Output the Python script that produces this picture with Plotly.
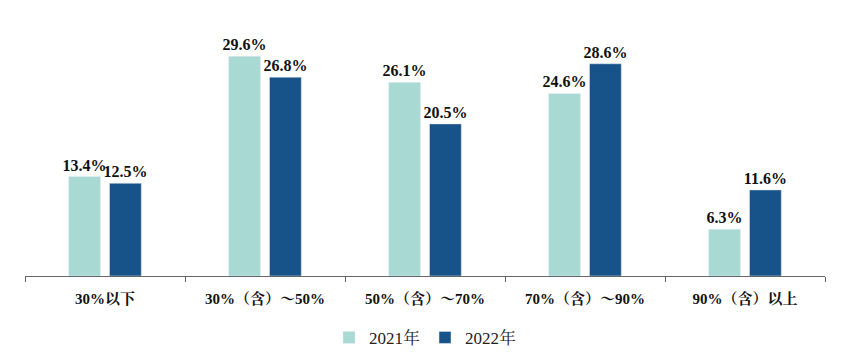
import plotly.graph_objects as go

categories = ["30%以下", "30%（含）～50%", "50%（含）～70%", "70%（含）～90%", "90%（含）以上"]
series_2021 = [13.4, 29.6, 26.1, 24.6, 6.3]
series_2022 = [12.5, 26.8, 20.5, 28.6, 11.6]
names = ["2021年", "2022年"]

font_fam = "Liberation Serif, Noto Serif CJK SC, Noto Sans CJK SC, serif"

fig = go.Figure()
for vals, nm, col in [(series_2021, names[0], "#A8D9D3"), (series_2022, names[1], "#175388")]:
    fig.add_trace(go.Bar(
        x=categories, y=vals, name=nm,
        marker_color=col,
        text=[f"{v:.1f}%" for v in vals], textposition="outside",
        textfont=dict(family=font_fam, size=16, color="#111111", weight="bold"),
        constraintext="none",
        cliponaxis=False,
    ))

fig.update_layout(
    width=847, height=361,
    margin=dict(l=17, r=30, t=12, b=93, autoexpand=False),
    paper_bgcolor="white", plot_bgcolor="white",
    barmode="group", bargap=0.49, bargroupgap=0.22,
    showlegend=True,
    legend=dict(orientation="h", x=0.5, xanchor="center",
                yref="container", y=0.136, yanchor="top",
                font=dict(family=font_fam, size=17, color="#222222"),
                itemwidth=30, traceorder="normal"),
    font=dict(family=font_fam),
)
fig.update_xaxes(
    automargin=False,
    showline=True, linecolor="#666666", linewidth=1.2,
    ticks="outside", tickson="boundaries", ticklen=5, tickcolor="#666666",
    tickfont=dict(family=font_fam, size=15, color="#111111", weight="bold"),
    ticklabelstandoff=9,
    showgrid=False,
)
fig.update_yaxes(visible=False, range=[0, 34.5], showgrid=False)

fig.write_html("out.html")
